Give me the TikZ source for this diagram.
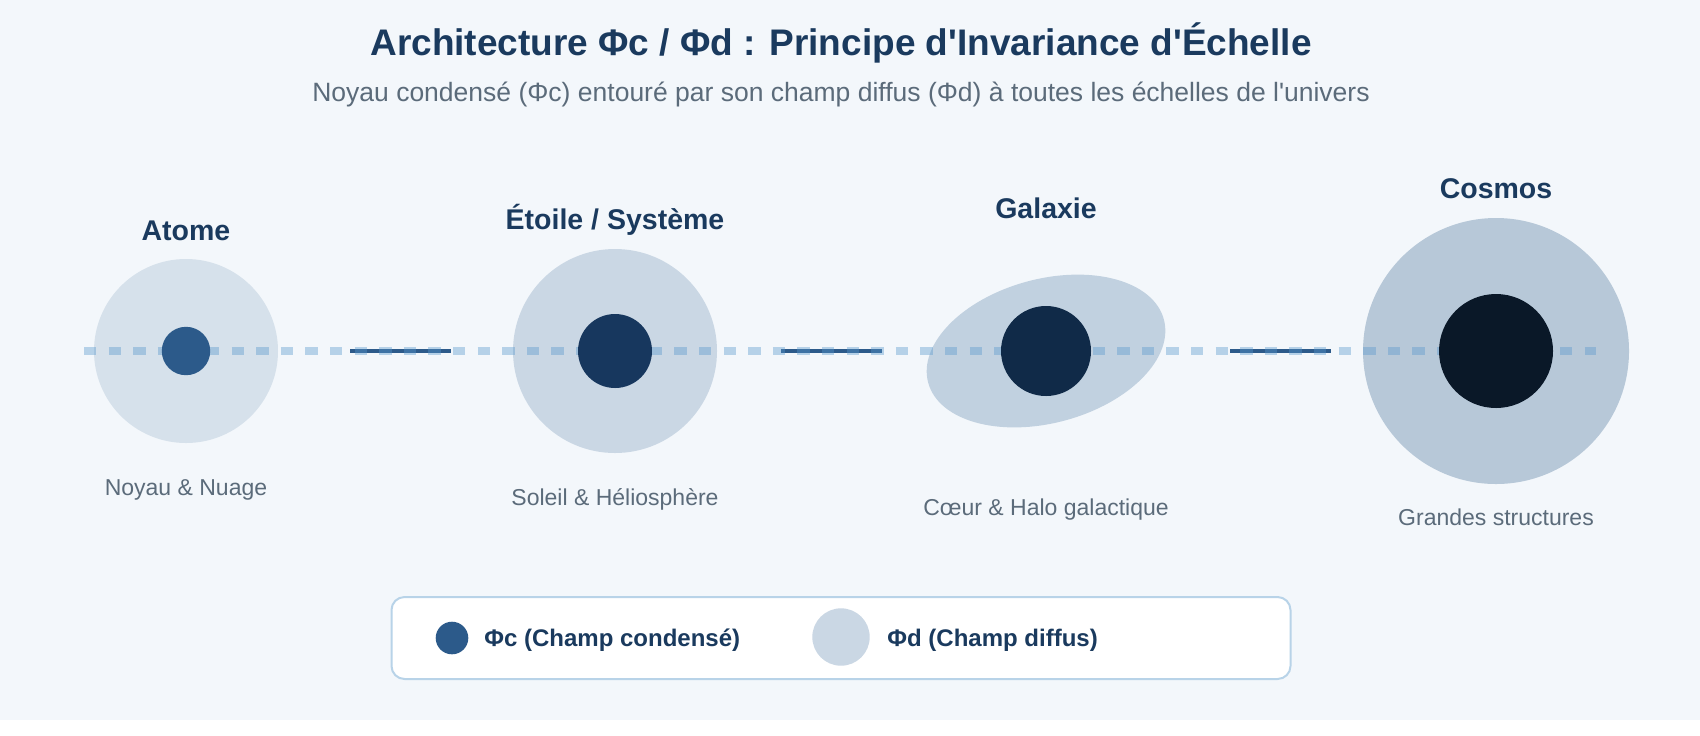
\documentclass[tikz,border=0pt]{standalone}
\usepackage{fontspec}
\setmainfont{Liberation Sans}[Ligatures=TeXOff]
\usetikzlibrary{shapes.geometric}
\definecolor{bg}{HTML}{F3F7FB}
\definecolor{navy}{HTML}{1A3A5E}
\definecolor{greytxt}{HTML}{5B6B7A}
\definecolor{dashblue}{HTML}{5898CC}
\definecolor{segblue}{HTML}{2C5A8A}
\definecolor{haloA}{HTML}{D6E1EB}
\definecolor{haloB}{HTML}{CAD7E4}
\definecolor{haloC}{HTML}{C1D1E0}
\definecolor{haloD}{HTML}{B7C8D8}
\definecolor{coreA}{HTML}{2C5A8A}
\definecolor{coreB}{HTML}{17375E}
\definecolor{coreC}{HTML}{102A48}
\definecolor{coreD}{HTML}{0A1828}
\definecolor{legborder}{HTML}{B8D3E8}
\begin{document}
\begin{tikzpicture}[x=0.5pt,y=-0.5pt,
  blob/.style={circle, inner sep=0pt, draw=none},
  scalelabel/.style={anchor=base, text=navy, font=\fontsize{14.25}{17}\selectfont\bfseries, inner sep=0pt},
  sublabel/.style={anchor=base, text=greytxt, font=\fontsize{11.5}{14}\selectfont, inner sep=0pt},
  legtext/.style={anchor=base west, text=navy, font=\fontsize{12}{14}\selectfont\bfseries, inner sep=0pt},
  link/.style={draw=segblue, line width=2.1pt},
  axis/.style={draw=dashblue, line width=4.1pt, dash pattern=on 6.15pt off 6.15pt, draw opacity=0.4}
]
\useasboundingbox (0,0) rectangle (1700,735);
\fill[white] (0,0) rectangle (1700,735);
\fill[bg] (0,0) rectangle (1700,720);

% titles
\node[anchor=base, text=navy, font=\fontsize{18.5}{22}\selectfont\bfseries, inner sep=0pt] (title) at (841,55) {Architecture Φc / Φd : Principe d'Invariance d'Échelle};
\node[anchor=base, text=greytxt, font=\fontsize{13.25}{16}\selectfont, inner sep=0pt] (subtitle) at (841,101.5) {Noyau condensé (Φc) entouré par son champ diffus (Φd) à toutes les échelles de l'univers};

% halos
\node[blob, fill=haloA, minimum size=92pt] (haloA) at (186,351) {};
\node[blob, fill=haloB, minimum size=102pt] (haloB) at (615,351) {};
\node[ellipse, inner sep=0pt, fill=haloC, minimum width=122pt, minimum height=72pt, rotate=15] (haloC) at (1046,351) {};
\node[blob, fill=haloD, minimum size=133pt] (haloD) at (1496,351) {};

% links between scales
\coordinate (l1a) at (350,351); \coordinate (l1b) at (451,351);
\coordinate (l2a) at (781,351); \coordinate (l2b) at (882,351);
\coordinate (l3a) at (1230,351); \coordinate (l3b) at (1331,351);
\draw[link] (l1a) -- (l1b);
\draw[link] (l2a) -- (l2b);
\draw[link] (l3a) -- (l3b);

% scale axis
\coordinate (axL) at (84,351);
\coordinate (axR) at (1596,351);
\draw[axis] (axL) -- (axR);

% cores
\node[blob, fill=coreA, minimum size=24.2pt] (coreA) at (186,351) {};
\node[blob, fill=coreB, minimum size=37pt] (coreB) at (615,351) {};
\node[blob, fill=coreC, minimum size=45pt] (coreC) at (1046,351) {};
\node[blob, fill=coreD, minimum size=57pt] (coreD) at (1496,351) {};

% labels
\node[scalelabel] (labA) at (186,240) {Atome};
\node[scalelabel] (labB) at (615,229) {Étoile / Système};
\node[scalelabel] (labC) at (1046,218) {Galaxie};
\node[scalelabel] (labD) at (1496,198.5) {Cosmos};

\node[sublabel] (subA) at (186,495) {Noyau \& Nuage};
\node[sublabel] (subB) at (615,505) {Soleil \& Héliosphère};
\node[sublabel] (subC) at (1046,515) {Cœur \& Halo galactique};
\node[sublabel] (subD) at (1496,525) {Grandes structures};

% legend
\node[draw=legborder, line width=1pt, fill=white, rounded corners=6.5pt, minimum width=449.5pt, minimum height=41pt, inner sep=0pt] (legend) at (841,638) {};
\node[blob, fill=coreA, minimum size=16.3pt] (legc) at (452,638) {};
\node[legtext] (legct) at (484,646) {Φc (Champ condensé)};
\node[blob, fill=haloB, minimum size=28.7pt] (legd) at (841,637) {};
\node[legtext] (legdt) at (887,646) {Φd (Champ diffus)};
\end{tikzpicture}
\end{document}
